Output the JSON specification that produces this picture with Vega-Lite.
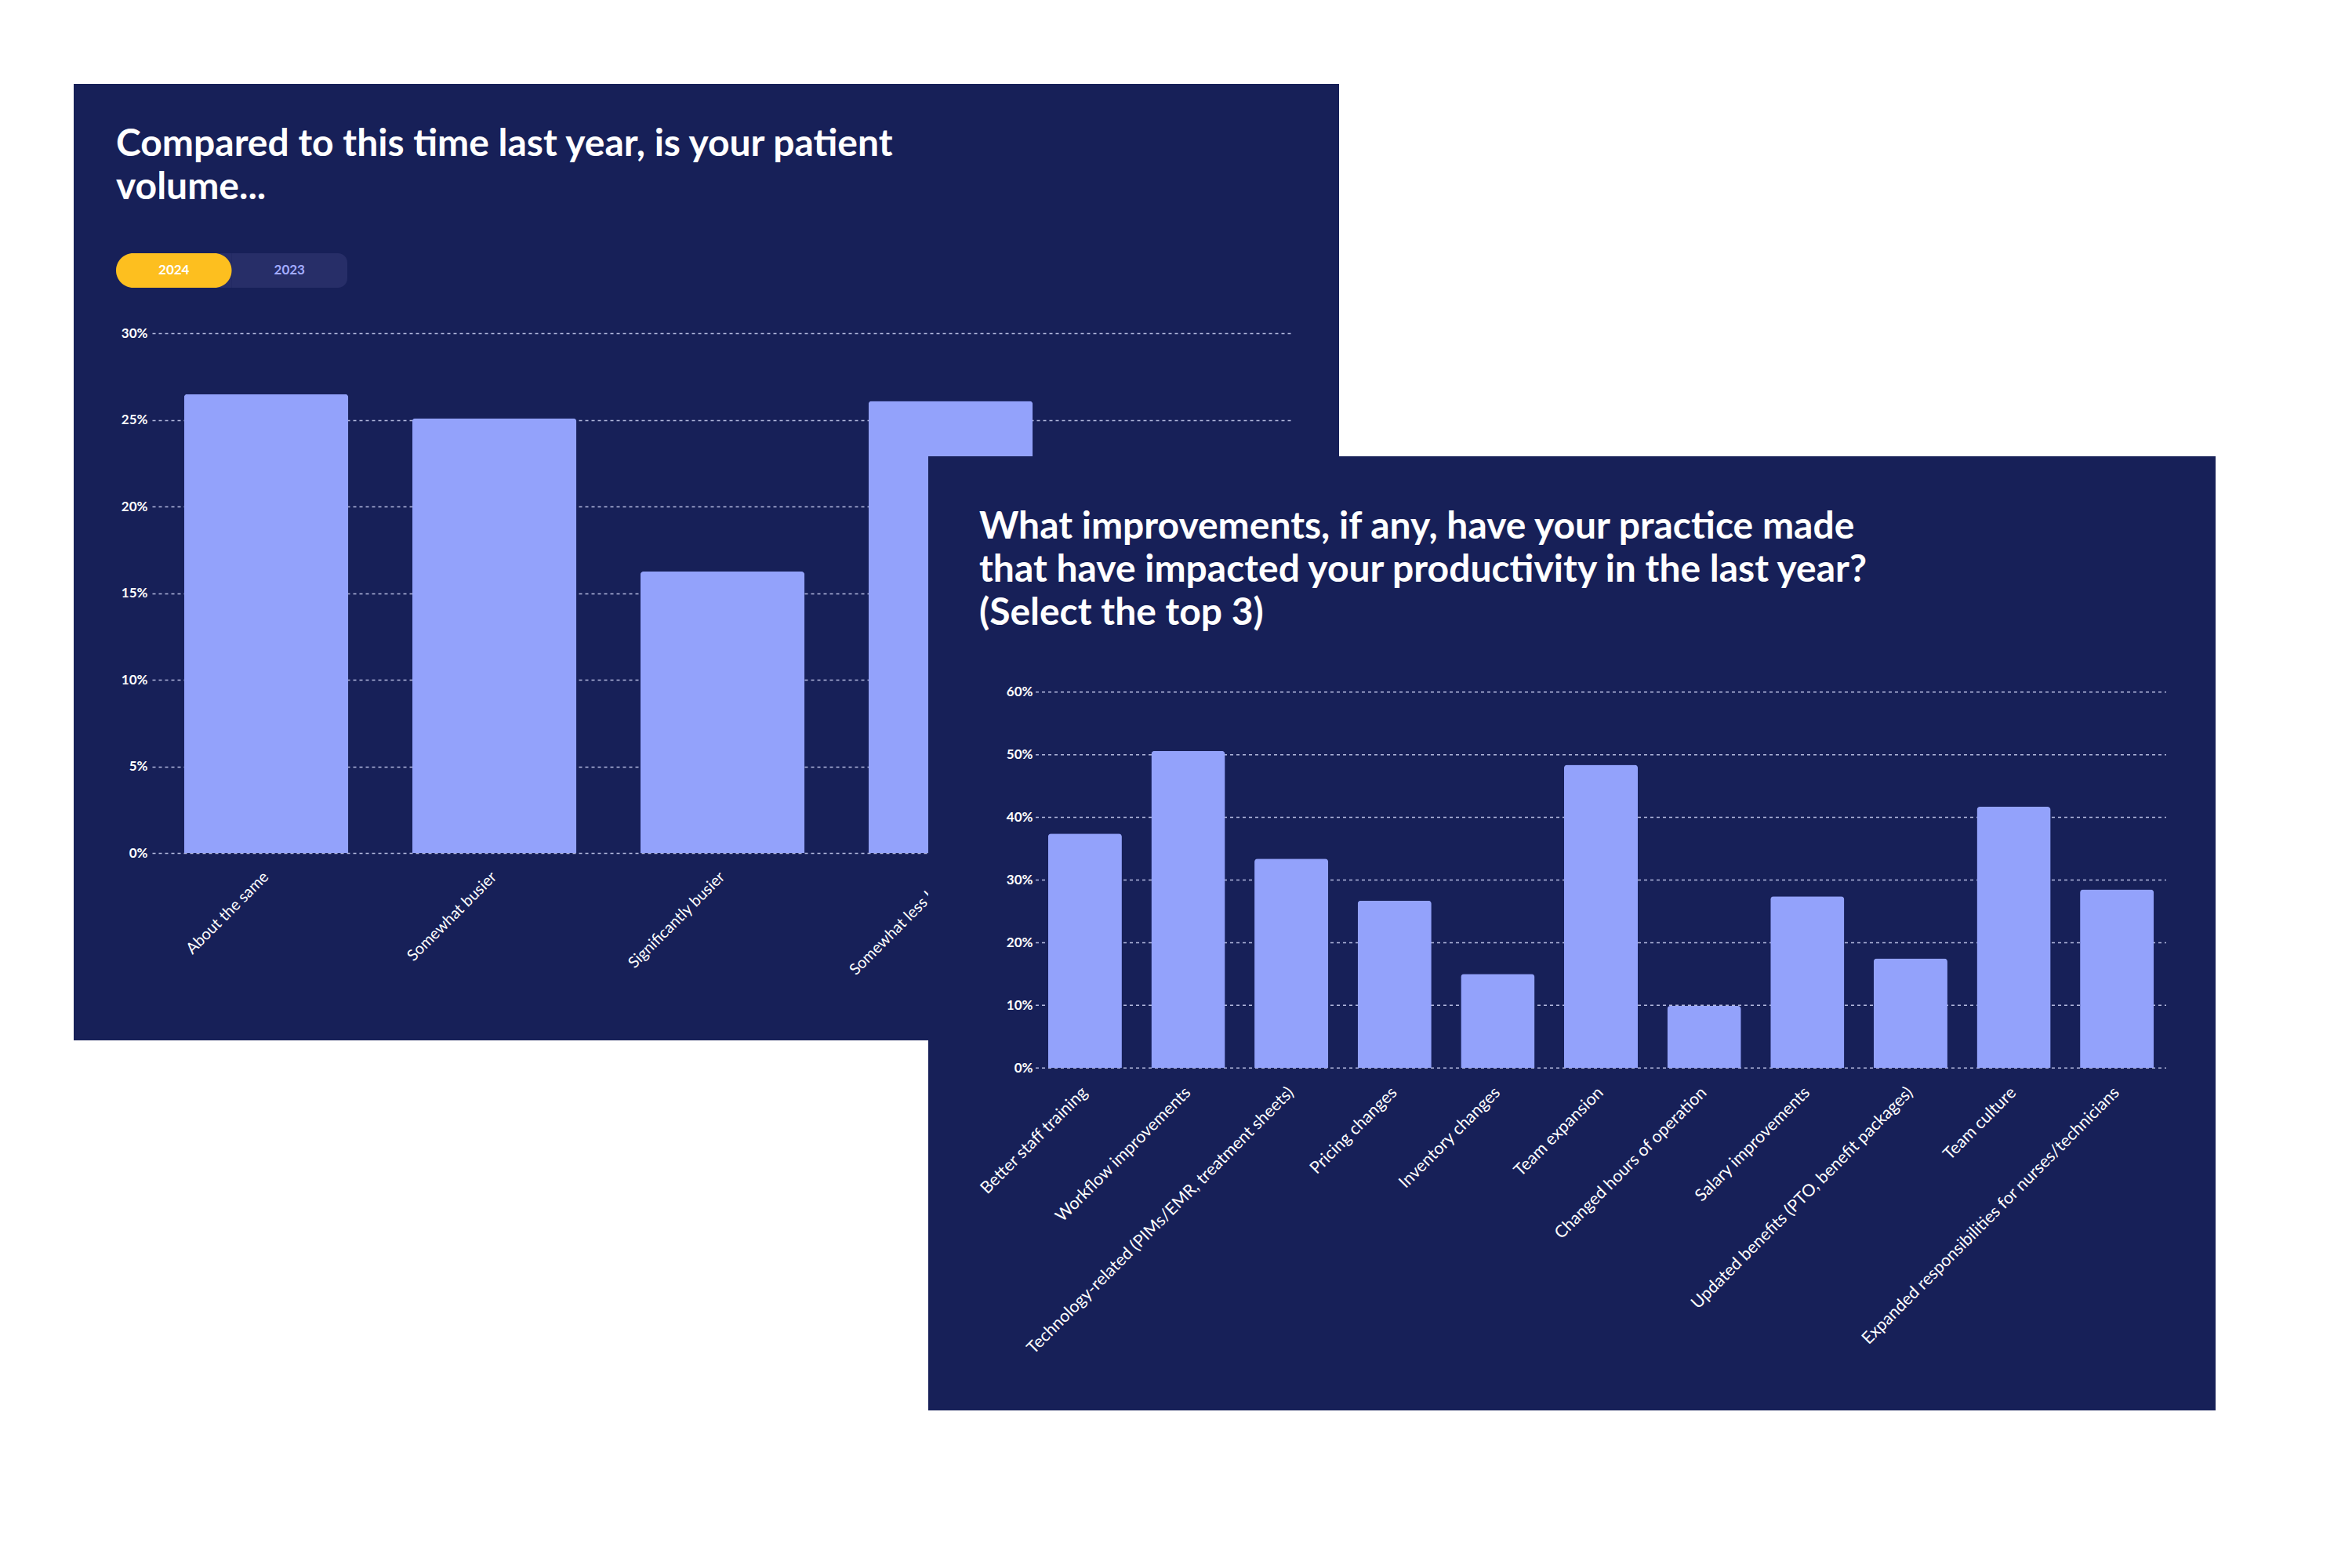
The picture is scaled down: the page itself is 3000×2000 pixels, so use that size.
{
  "$schema": "https://vega.github.io/schema/vega-lite/v6.json",
  "background": "#ffffff",
  "padding": {"left": 94, "top": 107, "right": 174, "bottom": 201},
  "width": 1614,
  "height": 1220,
  "view": {"fill": "#172058", "stroke": null},
  "config": {
    "font": "Lato",
    "view": {"stroke": null},
    "axis": {"labelFont": "Lato", "labelColor": "#ffffff", "domain": false, "ticks": false, "title": null, "labelOverlap": false, "labelLimit": 1000}
  },
  "layer": [
    {
      "data": {"values": [
        {"response": "About the same", "pct": 0.265},
        {"response": "Somewhat busier", "pct": 0.251},
        {"response": "Significantly busier", "pct": 0.1625},
        {"response": "Somewhat less busy", "pct": 0.261},
        {"response": "Significantly less busy", "pct": 0.063}
      ]},
      "mark": {"type": "bar", "color": "#93a2fb", "cornerRadiusTopLeft": 4, "cornerRadiusTopRight": 4},
      "encoding": {
        "x": {"field": "response", "type": "nominal", "sort": null,
              "scale": {"range": [100, 1555], "paddingInner": 0.28, "paddingOuter": 0.14},
              "axis": {"orient": "bottom", "offset": -239, "zindex": 0, "labelAngle": -45, "labelAlign": "right", "labelBaseline": "middle", "labelPadding": 27, "labelFontSize": 20, "labelFontWeight": "normal", "grid": false}},
        "y": {"field": "pct", "type": "quantitative",
              "scale": {"domain": [0, 0.3], "range": [981, 318.4], "nice": false},
              "axis": {"orient": "left", "offset": -100, "zindex": 0, "values": [0, 0.05, 0.1, 0.15, 0.2, 0.25, 0.3], "format": ".0%", "labelFontSize": 17, "labelFontWeight": "bold", "labelPadding": 6, "grid": true, "gridColor": "#b4b9de", "gridWidth": 1.5, "gridDash": [4, 4]}}
      }
    },
    {
      "data": {"values": [
        {"year": "2024", "row": "toggle"},
        {"year": "2023", "row": "toggle"}
      ]},
      "encoding": {
        "x": {"field": "year", "type": "nominal", "sort": null, "scale": {"range": [54, 349], "paddingInner": 0, "paddingOuter": 0}, "axis": null},
        "y": {"field": "row", "type": "nominal", "scale": {"range": [216, 260], "paddingInner": 0, "paddingOuter": 0}, "axis": null}
      },
      "layer": [
        {"transform": [{"filter": "datum.year === '2024'"}], "mark": {"type": "bar", "color": "#272e68", "cornerRadiusTopLeft": 22, "cornerRadiusBottomLeft": 22}},
        {"transform": [{"filter": "datum.year === '2023'"}], "mark": {"type": "bar", "color": "#272e68", "cornerRadiusTopRight": 12, "cornerRadiusBottomRight": 12}},
        {"transform": [{"filter": "datum.year === '2024'"}], "mark": {"type": "bar", "color": "#fdbf1f", "cornerRadius": 22}},
        {"mark": {"type": "text", "fontSize": 17, "fontWeight": "bold", "font": "Lato"},
         "encoding": {
           "text": {"field": "year"},
           "color": {"field": "year", "type": "nominal", "scale": {"domain": ["2024", "2023"], "range": ["#ffffff", "#a3acff"]}, "legend": null}
         }}
      ]
    },
    {
      "data": {"values": [{"title": "Compared to this time last year, is your patient\nvolume..."}]},
      "mark": {"type": "text", "lineBreak": "\n", "align": "left", "baseline": "alphabetic", "font": "Lato", "fontSize": 48, "fontWeight": "bold", "color": "#ffffff", "lineHeight": 55, "dx": 54, "dy": 92},
      "encoding": {
        "x": {"datum": 0, "type": "quantitative", "scale": {"domain": [0, 1], "range": [0, 1614]}, "axis": null},
        "y": {"datum": 0, "type": "quantitative", "scale": {"domain": [0, 1], "range": [0, 1220]}, "axis": null},
        "text": {"field": "title"}
      }
    },
    {
      "data": {"values": [{"title": "What improvements, if any, have your practice made\nthat have impacted your productivity in the last year?\n(Select the top 3)"}]},
      "encoding": {
        "x": {"datum": 0, "type": "quantitative", "scale": {"domain": [0, 1], "range": [1090, 2732]}, "axis": null},
        "y": {"datum": 0, "type": "quantitative", "scale": {"domain": [0, 1], "range": [475, 1692]}, "axis": null}
      },
      "layer": [
        {"mark": {"type": "rect", "color": "#172058"},
         "encoding": {"x2": {"datum": 1}, "y2": {"datum": 1}}},
        {"mark": {"type": "text", "lineBreak": "\n", "align": "left", "baseline": "alphabetic", "font": "Lato", "fontSize": 48, "fontWeight": "bold", "color": "#ffffff", "lineHeight": 55, "dx": 65, "dy": 105},
         "encoding": {"text": {"field": "title"}}}
      ]
    },
    {
      "data": {"values": [{"g": 0}, {"g": 0.1}, {"g": 0.2}, {"g": 0.3}, {"g": 0.4}, {"g": 0.5}, {"g": 0.6}]},
      "mark": {"type": "rule", "color": "#b4b9de", "strokeWidth": 1.5, "strokeDash": [4, 4]},
      "encoding": {
        "x": {"datum": 0, "type": "quantitative", "scale": {"domain": [0, 1], "range": [1227, 2669]}, "axis": null},
        "x2": {"datum": 1},
        "y": {"field": "g", "type": "quantitative", "scale": {"domain": [0, 0.6], "range": [1255.2, 775.8], "nice": false}, "axis": null}
      }
    },
    {
      "data": {"values": [
        {"improvement": "Better staff training", "pct": 0.374},
        {"improvement": "Workflow improvements", "pct": 0.506},
        {"improvement": "Technology-related (PIMs/EMR, treatment sheets)", "pct": 0.334},
        {"improvement": "Pricing changes", "pct": 0.267},
        {"improvement": "Inventory changes", "pct": 0.15},
        {"improvement": "Team expansion", "pct": 0.484},
        {"improvement": "Changed hours of operation", "pct": 0.099},
        {"improvement": "Salary improvements", "pct": 0.274},
        {"improvement": "Updated benefits (PTO, benefit packages)", "pct": 0.175},
        {"improvement": "Team culture", "pct": 0.417},
        {"improvement": "Expanded responsibilities for nurses/technicians", "pct": 0.285}
      ]},
      "mark": {"type": "bar", "color": "#93a2fb", "cornerRadiusTopLeft": 4, "cornerRadiusTopRight": 4},
      "encoding": {
        "x": {"field": "improvement", "type": "nominal", "sort": null,
              "scale": {"range": [1227, 2669], "paddingInner": 0.285, "paddingOuter": 0.12},
              "axis": {"orient": "bottom", "offset": 35.2, "zindex": 1, "labelAngle": -45, "labelAlign": "right", "labelBaseline": "middle", "labelPadding": 28, "labelFontSize": 21.5, "labelFontWeight": "normal", "grid": false}},
        "y": {"field": "pct", "type": "quantitative",
              "scale": {"domain": [0, 0.6], "range": [1255.2, 775.8], "nice": false},
              "axis": {"orient": "left", "offset": -1227, "zindex": 1, "values": [0, 0.1, 0.2, 0.3, 0.4, 0.5, 0.6], "format": ".0%", "labelFontSize": 17, "labelFontWeight": "bold", "labelPadding": 4, "grid": false}}
      }
    }
  ],
  "resolve": {
    "scale": {"x": "independent", "y": "independent", "color": "independent"},
    "axis": {"x": "independent", "y": "independent"}
  }
}
